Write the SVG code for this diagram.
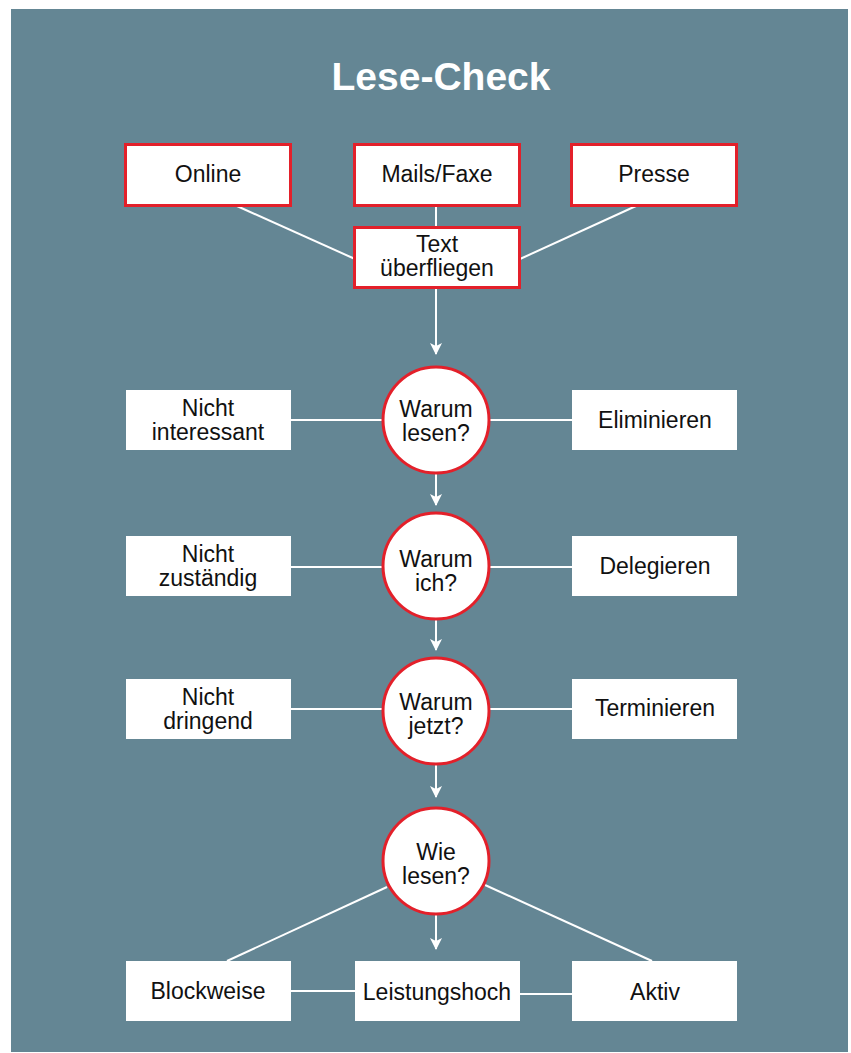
<svg xmlns="http://www.w3.org/2000/svg" width="851" height="1053" viewBox="0 0 851 1053">
<defs>
<style>
.bg{fill:#648694}
.box{fill:#ffffff}
.rbox{fill:#ffffff;stroke:#e3202a;stroke-width:3}
.circ{fill:#ffffff;stroke:#e3202a;stroke-width:3}
.t{font-family:"Liberation Sans",Arial,sans-serif;font-size:23px;fill:#111111;text-anchor:middle}
.title{font-family:"Liberation Sans",Arial,sans-serif;font-size:39px;font-weight:bold;fill:#ffffff;text-anchor:middle}
.ln{stroke:#ffffff;stroke-width:2;fill:none}
</style>
<marker id="ah" markerWidth="12" markerHeight="14" refX="11" refY="6" orient="auto" markerUnits="userSpaceOnUse" viewBox="0 0 12 12">
<path d="M0,0 L12,6 L0,12 L3,6 Z" fill="#ffffff"/>
</marker>
</defs>
<rect x="0" y="0" width="851" height="1053" fill="#ffffff"/>
<rect class="bg" x="11" y="9" width="837" height="1043"/>
<text class="title" x="441" y="90">Lese-Check</text>

<g id="connectors">
<line class="ln" x1="237" y1="206" x2="355" y2="259"/>
<line class="ln" x1="436" y1="206" x2="436" y2="227"/>
<line class="ln" x1="636" y1="206" x2="520" y2="259"/>
<line class="ln" x1="436" y1="288" x2="436" y2="354" marker-end="url(#ah)"/>
<line class="ln" x1="291" y1="420" x2="383" y2="420"/>
<line class="ln" x1="489" y1="420" x2="572" y2="420"/>
<line class="ln" x1="436" y1="473" x2="436" y2="505" marker-end="url(#ah)"/>
<line class="ln" x1="291" y1="567" x2="383" y2="567"/>
<line class="ln" x1="489" y1="567" x2="572" y2="567"/>
<line class="ln" x1="436" y1="620" x2="436" y2="650" marker-end="url(#ah)"/>
<line class="ln" x1="291" y1="709" x2="383" y2="709"/>
<line class="ln" x1="489" y1="709" x2="572" y2="709"/>
<line class="ln" x1="436" y1="764" x2="436" y2="797" marker-end="url(#ah)"/>
<line class="ln" x1="387" y1="887" x2="227" y2="961"/>
<line class="ln" x1="485" y1="885" x2="652" y2="961"/>
<line class="ln" x1="436" y1="914" x2="436" y2="949" marker-end="url(#ah)"/>
<line class="ln" x1="291" y1="991" x2="355" y2="991"/>
<line class="ln" x1="520" y1="994" x2="572" y2="994"/>
</g>

<g id="online"><rect class="rbox" x="125.5" y="144.5" width="165" height="61"/><text class="t" x="208" y="182">Online</text></g>
<g id="mails"><rect class="rbox" x="354.5" y="144.5" width="165" height="61"/><text class="t" x="437" y="182">Mails/Faxe</text></g>
<g id="presse"><rect class="rbox" x="571.5" y="144.5" width="165" height="61"/><text class="t" x="654" y="182">Presse</text></g>
<g id="ueberfliegen"><rect class="rbox" x="354.5" y="227.5" width="165" height="60"/><text class="t" x="437" y="252">Text</text><text class="t" x="437" y="276">überfliegen</text></g>

<g id="warum-lesen"><circle class="circ" cx="436" cy="420" r="53"/><text class="t" x="436" y="417">Warum</text><text class="t" x="436" y="441">lesen?</text></g>
<g id="nicht-interessant"><rect class="box" x="126" y="390" width="165" height="60"/><text class="t" x="208" y="416">Nicht</text><text class="t" x="208" y="440">interessant</text></g>
<g id="eliminieren"><rect class="box" x="572" y="390" width="165" height="60"/><text class="t" x="655" y="428">Eliminieren</text></g>

<g id="warum-ich"><circle class="circ" cx="436" cy="566" r="53"/><text class="t" x="436" y="567">Warum</text><text class="t" x="436" y="591">ich?</text></g>
<g id="nicht-zustaendig"><rect class="box" x="126" y="536" width="165" height="60"/><text class="t" x="208" y="562">Nicht</text><text class="t" x="208" y="586">zuständig</text></g>
<g id="delegieren"><rect class="box" x="572" y="536" width="165" height="60"/><text class="t" x="655" y="574">Delegieren</text></g>

<g id="warum-jetzt"><circle class="circ" cx="436" cy="711" r="53"/><text class="t" x="436" y="710">Warum</text><text class="t" x="436" y="734">jetzt?</text></g>
<g id="nicht-dringend"><rect class="box" x="126" y="679" width="165" height="60"/><text class="t" x="208" y="705">Nicht</text><text class="t" x="208" y="729">dringend</text></g>
<g id="terminieren"><rect class="box" x="572" y="679" width="165" height="60"/><text class="t" x="655" y="716">Terminieren</text></g>

<g id="wie-lesen"><circle class="circ" cx="436" cy="861" r="53"/><text class="t" x="436" y="860">Wie</text><text class="t" x="436" y="884">lesen?</text></g>
<g id="blockweise"><rect class="box" x="126" y="961" width="165" height="60"/><text class="t" x="208" y="999">Blockweise</text></g>
<g id="leistungshoch"><rect class="box" x="355" y="961" width="165" height="60"/><text class="t" x="437" y="1000">Leistungshoch</text></g>
<g id="aktiv"><rect class="box" x="572" y="961" width="165" height="60"/><text class="t" x="655" y="1000">Aktiv</text></g>
</svg>
